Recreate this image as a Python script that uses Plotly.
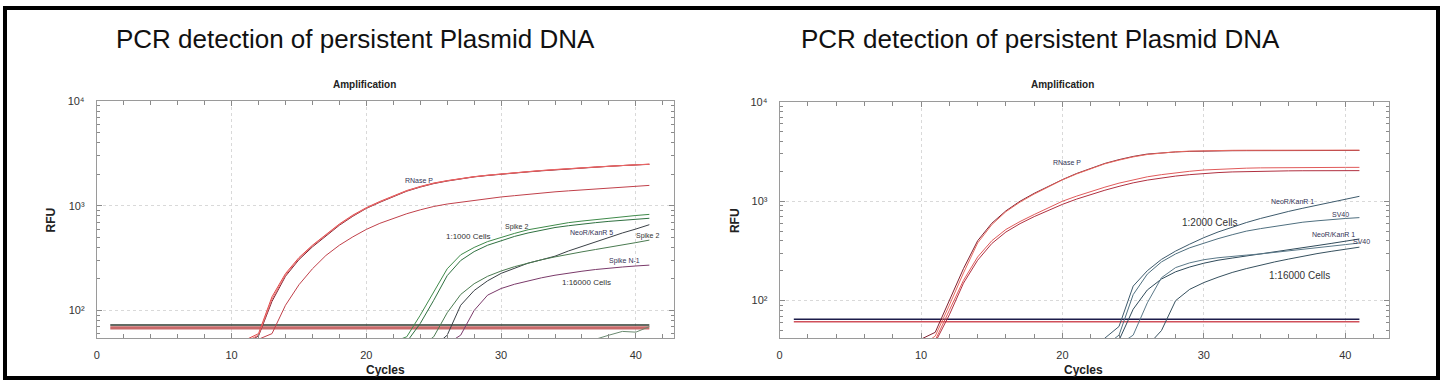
import math
import plotly.graph_objects as go

# ---------------- DATA ----------------
CHART_TITLE = "PCR detection of persistent Plasmid DNA"
SUBTITLE = "Amplification"
X_LABEL = "Cycles"
Y_LABEL = "RFU"
X_TICKS = [0, 10, 20, 30, 40]
Y_TICKS = [100, 1000, 10000]
Y_TICK_TEXT = ["10²", "10³", "10⁴"]

# Left panel (start cycle, RFU values per cycle)
L_RNASEP_A_START, L_RNASEP_A = 10, [20, 52, 60, 135, 225, 320, 420, 530, 670, 815, 960, 1100, 1240, 1400, 1530, 1650, 1740, 1830, 1900, 1960, 2020, 2070, 2120, 2170, 2220, 2265, 2310, 2350, 2390, 2430, 2470, 2500]
L_RNASEP_B_START, L_RNASEP_B = 10, [18, 50, 58, 128, 218, 314, 415, 525, 662, 805, 950, 1090, 1232, 1390, 1520, 1640, 1735, 1825, 1895, 1960, 2020, 2075, 2125, 2175, 2225, 2270, 2315, 2355, 2395, 2435, 2470, 2495]
L_RNASEP_C_START, L_RNASEP_C = 10, [16, 48, 57, 122, 212, 306, 405, 515, 652, 795, 945, 1080, 1220, 1380, 1510, 1630, 1725, 1815, 1890, 1950, 2010, 2060, 2110, 2160, 2210, 2255, 2300, 2345, 2385, 2425, 2460, 2490]
L_RNASEP_D_START, L_RNASEP_D = 11, [30, 53, 60, 112, 176, 250, 335, 420, 505, 595, 680, 760, 840, 915, 985, 1040, 1085, 1130, 1175, 1215, 1250, 1290, 1325, 1360, 1390, 1420, 1450, 1480, 1510, 1540, 1567]
L_SPIKE2_A_START, L_SPIKE2_A = 21, [30, 50, 56, 90, 150, 250, 340, 400, 455, 500, 545, 590, 625, 660, 690, 715, 740, 765, 785, 808, 828]
L_SPIKE2_B_START, L_SPIKE2_B = 21, [30, 45, 50, 75, 125, 215, 300, 365, 420, 465, 510, 550, 585, 620, 645, 670, 690, 710, 728, 745, 760]
L_NEOR5_START, L_NEOR5 = 24, [30, 45, 58, 112, 155, 192, 226, 255, 283, 305, 330, 370, 410, 450, 500, 550, 600, 660]
L_SPIKE2_C_START, L_SPIKE2_C = 23, [30, 45, 56, 95, 142, 180, 212, 238, 262, 285, 305, 325, 345, 363, 382, 400, 420, 445, 470]
L_SPIKEN1_START, L_SPIKEN1 = 25, [30, 48, 58, 100, 140, 162, 178, 192, 205, 217, 228, 237, 246, 254, 260, 266, 271]
L_NOISE_START, L_NOISE = 36, [40, 53, 58, 63, 62, 70]
L_THRESH_DARK, L_THRESH_RED = 72.5, 68

# Right panel
R_RNASEP_A_START, R_RNASEP_A = 9, [30, 41, 48, 100, 210, 400, 600, 800, 1000, 1200, 1420, 1650, 1900, 2150, 2400, 2620, 2820, 2980, 3070, 3130, 3170, 3200, 3210, 3220, 3225, 3230, 3232, 3235, 3237, 3238, 3240, 3240, 3240]
R_RNASEP_B_START, R_RNASEP_B = 10, [35, 44, 90, 190, 380, 580, 785, 980, 1180, 1400, 1640, 1880, 2130, 2380, 2590, 2790, 2950, 3060, 3140, 3190, 3220, 3240, 3250, 3255, 3260, 3260, 3262, 3262, 3265, 3265, 3265, 3265]
R_RNASEP_C_START, R_RNASEP_C = 10, [32, 40, 80, 160, 275, 400, 520, 625, 735, 860, 1000, 1125, 1255, 1385, 1520, 1650, 1760, 1850, 1930, 2000, 2060, 2100, 2130, 2150, 2165, 2175, 2180, 2185, 2185, 2190, 2190, 2190]
R_RNASEP_D_START, R_RNASEP_D = 10, [30, 38, 72, 150, 255, 375, 490, 595, 700, 810, 930, 1050, 1170, 1290, 1410, 1530, 1630, 1720, 1790, 1850, 1900, 1940, 1970, 1990, 2005, 2015, 2020, 2025, 2028, 2030, 2030, 2030]
R_NEOR_2000_START, R_NEOR_2000 = 21, [25, 32, 42, 55, 140, 200, 260, 315, 370, 430, 490, 550, 610, 670, 730, 790, 850, 910, 970, 1040, 1120]
R_SV40_2000_START, R_SV40_2000 = 21, [25, 30, 35, 45, 115, 185, 245, 295, 340, 380, 420, 460, 500, 530, 560, 590, 615, 635, 655, 670, 684]
R_NEOR_16000_START, R_NEOR_16000 = 22, [25, 35, 40, 82, 128, 165, 195, 218, 238, 255, 268, 282, 296, 310, 325, 340, 358, 376, 396, 417]
R_SV40_16000_START, R_SV40_16000 = 23, [30, 36, 45, 95, 170, 215, 240, 258, 270, 280, 287, 295, 305, 316, 328, 340, 352, 366, 380]
R_LOW_16000_START, R_LOW_16000 = 25, [30, 35, 50, 100, 130, 152, 172, 192, 210, 228, 245, 262, 280, 297, 313, 330, 345]
R_THRESH_DARK, R_THRESH_RED = 65, 61.4
THRESH_SPAN = [1, 41]

# ---------------- LAYOUT HELPERS ----------------
W, H = 1440, 384
FONT = "Liberation Sans, Arial, sans-serif"


def PX(x):
    return x / W


def PY(y):
    return 1 - y / H


def cyc(start, vals):
    return list(range(start, start + len(vals)))


fig = go.Figure()


def add_curve(start, vals, color, ax, width=1.0):
    xa, ya = ("x", "y") if ax == 1 else ("x2", "y2")
    fig.add_trace(go.Scatter(x=cyc(start, vals), y=vals, mode="lines",
                             line=dict(color=color, width=width),
                             xaxis=xa, yaxis=ya, showlegend=False, hoverinfo="skip"))


def add_hline(val, color, width, ax):
    xa, ya = ("x", "y") if ax == 1 else ("x2", "y2")
    fig.add_trace(go.Scatter(x=THRESH_SPAN, y=[val, val], mode="lines",
                             line=dict(color=color, width=width),
                             xaxis=xa, yaxis=ya, showlegend=False, hoverinfo="skip"))


# left panel
add_hline(L_THRESH_RED, "#c96a6a", 3.2, 1)
add_hline(L_THRESH_DARK, "#2e3b30", 1.4, 1)
add_curve(L_RNASEP_D_START, L_RNASEP_D, "#c0404a", 1)
add_curve(L_RNASEP_C_START, L_RNASEP_C, "#7a2030", 1)
add_curve(L_RNASEP_A_START, L_RNASEP_A, "#e04848", 1)
add_curve(L_RNASEP_B_START, L_RNASEP_B, "#e86868", 1)
add_curve(L_SPIKE2_A_START, L_SPIKE2_A, "#3f8a4a", 1)
add_curve(L_SPIKE2_B_START, L_SPIKE2_B, "#2f7040", 1)
add_curve(L_NEOR5_START, L_NEOR5, "#3a4046", 1)
add_curve(L_SPIKE2_C_START, L_SPIKE2_C, "#4a7a50", 1)
add_curve(L_SPIKEN1_START, L_SPIKEN1, "#7a3a6a", 1)
add_curve(L_NOISE_START, L_NOISE, "#6a8a70", 1)

# right panel
add_hline(R_THRESH_RED, "#d0505a", 1.6, 2)
add_hline(R_THRESH_DARK, "#1c1c4a", 1.6, 2)
add_curve(R_RNASEP_A_START, R_RNASEP_A, "#802030", 2)
add_curve(R_RNASEP_D_START, R_RNASEP_D, "#b03040", 2)
add_curve(R_RNASEP_C_START, R_RNASEP_C, "#e05a5a", 2)
add_curve(R_RNASEP_B_START, R_RNASEP_B, "#e86a60", 2)
add_curve(R_NEOR_2000_START, R_NEOR_2000, "#3d5a6c", 2)
add_curve(R_SV40_2000_START, R_SV40_2000, "#4f6f7f", 2)
add_curve(R_NEOR_16000_START, R_NEOR_16000, "#2f4a5a", 2)
add_curve(R_SV40_16000_START, R_SV40_16000, "#5a7888", 2)
add_curve(R_LOW_16000_START, R_LOW_16000, "#36505e", 2)

minor_y = [k * 10 ** e for e in range(1, 4) for k in range(2, 10)]

axis_common = dict(showline=True, linecolor="#9a9a9a", linewidth=1, mirror="allticks",
                   ticks="inside", tickcolor="#8a8a8a", ticklen=5,
                   tickfont=dict(family=FONT, size=11, color="#333333"),
                   showgrid=True, gridcolor="#d9d9d9", griddash="dot", gridwidth=1,
                   zeroline=False)

xaxis_common = dict(axis_common, tickvals=X_TICKS, ticklabelstandoff=6,
                    minor=dict(dtick=2, tick0=0, ticks="inside", ticklen=4,
                               tickcolor="#8a8a8a", showgrid=False))
yaxis_common = dict(axis_common, type="log", tickvals=Y_TICKS, ticktext=Y_TICK_TEXT,
                    ticklabelstandoff=9,
                    minor=dict(tickvals=minor_y, ticks="inside", ticklen=3,
                               tickcolor="#8a8a8a", showgrid=False))

fig.update_layout(
    width=W, height=H, autosize=False,
    margin=dict(l=0, r=0, t=0, b=0),
    paper_bgcolor="white", plot_bgcolor="white",
    xaxis=dict(xaxis_common, domain=[PX(94), PX(672)], range=[0, 42.8], anchor="y"),
    yaxis=dict(yaxis_common, domain=[PY(337.7), PY(96.7)], range=[math.log10(54), 4], anchor="x"),
    xaxis2=dict(xaxis_common, domain=[PX(778.3), PX(1389)], range=[0, 43.1], anchor="y2"),
    yaxis2=dict(yaxis_common, domain=[PY(337.7), PY(97.3)], range=[1.62, 4], anchor="x2"),
)

ann = []


def text(x, y, s, size, bold=False, color="#222222", angle=0, xanchor="center"):
    ann.append(dict(x=PX(x), y=PY(y), xref="paper", yref="paper", text=s,
                    showarrow=False, xanchor=xanchor, yanchor="middle", textangle=angle,
                    font=dict(family=FONT, size=size, color=color,
                              weight=("bold" if bold else "normal"))))


# titles
text(353.5, 34, CHART_TITLE, 26, color="#111111")
text(1040, 34, CHART_TITLE, 26, color="#111111")
text(362, 80, SUBTITLE, 10, bold=True)
text(1062, 80, SUBTITLE, 10, bold=True)
text(383, 370, X_LABEL, 12, bold=True)
text(1083, 370, X_LABEL, 12, bold=True)
text(48, 217, Y_LABEL, 12, bold=True, angle=-90)
text(733, 218, Y_LABEL, 12, bold=True, angle=-90)

# curve labels left
text(417, 177, "RNase P", 7, color="#333355")
text(515, 225, "Spike 2", 7, color="#333333")
text(466, 234, "1:1000 Cells", 8, color="#333333")
text(590, 230, "NeoR/KanR 5", 7, color="#333355")
text(646, 234, "Spike 2", 7, color="#333333")
text(623, 259, "Spike N-1", 7, color="#333355")
text(585, 281, "1:16000 Cells", 8, color="#333333")

# curve labels right
text(1066, 159, "RNase P", 7, color="#333355")
text(1292, 199, "NeoR/KanR 1", 7, color="#333355")
text(1340, 212, "SV40", 7, color="#333355")
text(1210, 220, "1:2000 Cells", 10, color="#333333")
text(1333, 232, "NeoR/KanR 1", 7, color="#333355")
text(1361, 239, "SV40", 7, color="#333355")
text(1299, 274, "1:16000 Cells", 10, color="#333333")

fig.update_layout(annotations=ann)

# outer frame
fig.add_shape(type="rect", xref="paper", yref="paper",
              x0=PX(2), x1=PX(1438), y0=PY(378), y1=PY(2),
              line=dict(color="black", width=4), fillcolor="rgba(0,0,0,0)", layer="above")

fig.write_html("out.html", config={"displayModeBar": False},
               post_script="document.body.style.margin='0';document.body.style.padding='0';"
                           "document.documentElement.style.margin='0';")
